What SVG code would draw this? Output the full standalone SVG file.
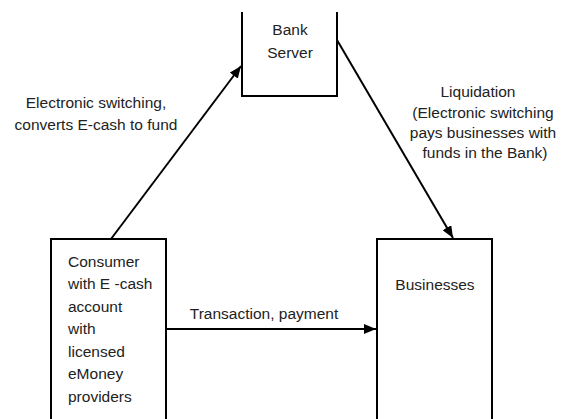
<svg xmlns="http://www.w3.org/2000/svg" width="561" height="419" viewBox="0 0 561 419">
<style>
.box{fill:#fff;stroke:#000;stroke-width:2}
.t{font-family:"Liberation Sans",Arial,sans-serif;font-size:15.5px;fill:#222}
.c{text-anchor:middle}
.ln{stroke:#000;stroke-width:2;fill:none}
</style>
<defs>
<marker id="ah" viewBox="0 0 12 10" refX="12" refY="5" markerWidth="12" markerHeight="10" markerUnits="userSpaceOnUse" orient="auto">
<path d="M0,0 L12,5 L0,10 Z" fill="#000"/>
</marker>
</defs>
<rect width="561" height="419" fill="#fff"/>
<g id="connectors">
<line class="ln" x1="111" y1="239" x2="241" y2="66" marker-end="url(#ah)"/>
<line class="ln" x1="337" y1="40" x2="453" y2="238" marker-end="url(#ah)"/>
<line class="ln" x1="166" y1="329" x2="376" y2="329" marker-end="url(#ah)"/>
<text class="t c" x="96" y="108">Electronic switching,</text>
<text class="t c" x="96" y="130">converts E-cash to fund</text>
<text class="t c" x="478" y="97">Liquidation</text>
<text class="t c" x="483" y="118">(Electronic switching</text>
<text class="t c" x="483" y="138">pays businesses with</text>
<text class="t c" x="485" y="158">funds in the Bank)</text>
<text class="t c" x="264" y="319">Transaction, payment</text>
</g>
<g id="bank">
<path class="box" d="M242,12 V96 H337 V12"/>
<text class="t c" x="290" y="35">Bank</text>
<text class="t c" x="290" y="58">Server</text>
</g>
<g id="consumer">
<path class="box" d="M51,425 V239 H166 V425"/>
<text class="t" x="68" y="267">Consumer</text>
<text class="t" x="68" y="289">with E -cash</text>
<text class="t" x="68" y="312">account</text>
<text class="t" x="68" y="334">with</text>
<text class="t" x="68" y="357">licensed</text>
<text class="t" x="68" y="379">eMoney</text>
<text class="t" x="68" y="402">providers</text>
</g>
<g id="businesses">
<path class="box" d="M377,425 V239 H492 V425"/>
<text class="t c" x="435" y="290">Businesses</text>
</g>
</svg>
